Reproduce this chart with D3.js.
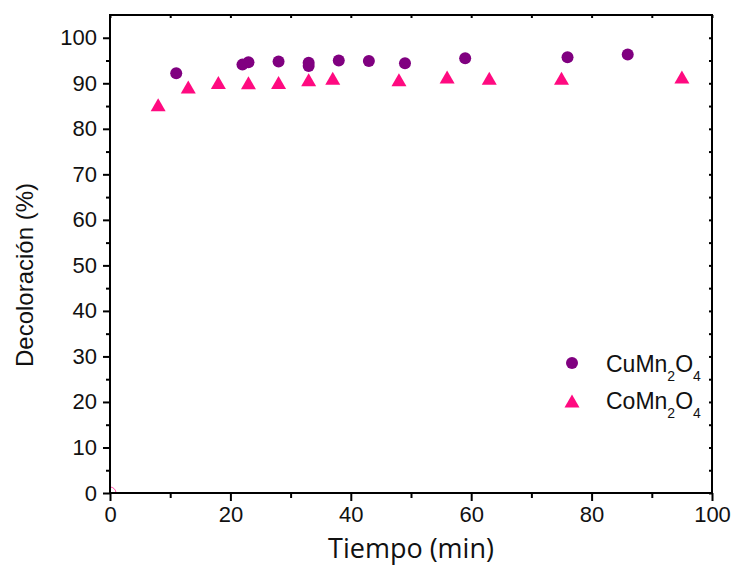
<!DOCTYPE html>
<html>
<head>
<meta charset="utf-8">
<script src="https://cdn.jsdelivr.net/npm/d3@7"></script>
<style>
  html, body { margin: 0; padding: 0; background: #fff; }
  svg { display: block; }
  text { font-family: "Liberation Sans", Arial, sans-serif; fill: #111; }
</style>
</head>
<body>
<svg id="chart" width="734" height="567"></svg>
<script>
// ---- data ----
const cuTime = [11, 22, 23, 28, 33, 33, 38, 43, 49, 59, 76, 86];
const cuDecol = [92.2, 94.1, 94.6, 94.8, 94.5, 93.8, 95.0, 94.9, 94.4, 95.5, 95.7, 96.3];
const coTime = [8, 13, 18, 23, 28, 33, 37, 48, 56, 63, 75, 95];
const coDecol = [85.3, 89.2, 90.2, 90.1, 90.2, 90.8, 91.1, 90.8, 91.4, 91.1, 91.1, 91.4];
const originTime = [0];
const originDecol = [0];
const xTicks = [0, 20, 40, 60, 80, 100];
const yTicks = [0, 10, 20, 30, 40, 50, 60, 70, 80, 90, 100];
const xMinor = [10, 30, 50, 70, 90];
const yMinor = [5, 15, 25, 35, 45, 55, 65, 75, 85, 95];
const seriesNames = ["CuMn", "CoMn"];

// ---- layout ----
const svg = d3.select("#chart");
const L = 110, R = 712, T = 15, B = 493;
const x = d3.scaleLinear().domain([0, 100]).range([L, R]);
const y = d3.scaleLinear().domain([0, 105]).range([B, T]);

const purple = "#800080", pink = "#FF0A80";

// clip
svg.append("defs").append("clipPath").attr("id", "clip")
  .append("rect").attr("x", L).attr("y", T).attr("width", R - L).attr("height", B - T);

const plot = svg.append("g").attr("clip-path", "url(#clip)");

// origin marker (partial)
plot.selectAll(".origin").data(originTime).enter().append("circle")
  .attr("cx", (d) => x(d)).attr("cy", (d, i) => y(originDecol[i]))
  .attr("r", 6).attr("fill", "none").attr("stroke", pink).attr("stroke-width", 1).attr("opacity", 0.7);

// triangle path centered at bbox center
const triW = 15, triH = 13;
const triPath = `M0,${-triH/2}L${triW/2},${triH/2}L${-triW/2},${triH/2}Z`;

plot.selectAll(".co").data(coTime).enter().append("path")
  .attr("d", triPath)
  .attr("transform", (d, i) => `translate(${x(d)},${y(coDecol[i])})`)
  .attr("fill", pink);

plot.selectAll(".cu").data(cuTime).enter().append("circle")
  .attr("cx", (d) => x(d)).attr("cy", (d, i) => y(cuDecol[i]))
  .attr("r", 6).attr("fill", purple);

// ---- axes ----
const axisStyle = (g) => {
  g.selectAll(".domain").remove();
  g.selectAll("line").attr("stroke", "#000").attr("stroke-width", 2);
  g.selectAll("text").style("font-size", "22px").style("font-family", "'Liberation Sans', Arial, sans-serif").attr("fill", "#111");
};

// bottom
svg.append("g").attr("transform", `translate(0,${B})`)
  .call(d3.axisBottom(x).tickValues(xTicks).tickSize(8).tickPadding(5).tickFormat(d3.format("d")))
  .call(axisStyle);
svg.append("g").attr("transform", `translate(0,${B})`)
  .call(d3.axisBottom(x).tickValues(xMinor).tickSize(5).tickFormat(""))
  .call(axisStyle);
// left
svg.append("g").attr("transform", `translate(${L},0)`)
  .call(d3.axisLeft(y).tickValues(yTicks).tickSize(7).tickPadding(6).tickFormat(d3.format("d")))
  .call(axisStyle);
svg.append("g").attr("transform", `translate(${L},0)`)
  .call(d3.axisLeft(y).tickValues(yMinor).tickSize(4).tickFormat(""))
  .call(axisStyle);
// top (inner ticks)
svg.append("g").attr("transform", `translate(0,${T})`)
  .call(d3.axisBottom(x).tickValues(xTicks.concat(xMinor)).tickSize(3).tickFormat(""))
  .call(axisStyle);
// right (inner ticks)
svg.append("g").attr("transform", `translate(${R},0)`)
  .call(d3.axisLeft(y).tickValues(yTicks.concat(yMinor)).tickSize(3).tickFormat(""))
  .call(axisStyle);

// frame
svg.append("rect").attr("x", L).attr("y", T).attr("width", R - L).attr("height", B - T)
  .attr("fill", "none").attr("stroke", "#000").attr("stroke-width", 2);

// ---- titles ----
svg.append("text").attr("x", (L + R) / 2).attr("y", 558)
  .attr("text-anchor", "middle")
  .style("font-family", "'Open Sans', sans-serif").style("font-size", "27px")
  .text("Tiempo (min)");

svg.append("text")
  .attr("transform", `translate(33,275) rotate(-90)`)
  .attr("text-anchor", "middle")
  .style("font-size", "24px")
  .text("Decoloración (%)");

// ---- legend ----
const leg = svg.append("g");
const legItems = [
  { name: seriesNames[0], color: purple, shape: "circle", cy: 363, base: 372 },
  { name: seriesNames[1], color: pink, shape: "tri", cy: 401, base: 409 }
];
legItems.forEach((it) => {
  if (it.shape === "circle") {
    leg.append("circle").attr("cx", 572).attr("cy", it.cy).attr("r", 6).attr("fill", it.color);
  } else {
    leg.append("path").attr("d", triPath).attr("transform", `translate(572,${it.cy})`).attr("fill", it.color);
  }
  const t = leg.append("text").attr("x", 606).attr("y", it.base).style("font-size", "23px");
  t.append("tspan").text(it.name);
  t.append("tspan").attr("dy", 9).style("font-size", "14px").text("2");
  t.append("tspan").attr("dy", -9).text("O");
  t.append("tspan").attr("dy", 9).style("font-size", "14px").text("4");
});
</script>
</body>
</html>
